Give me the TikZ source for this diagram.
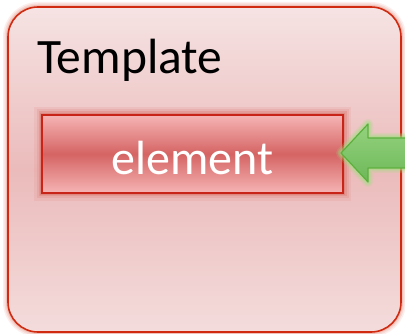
\documentclass[tikz,border=0pt]{standalone}
\usepackage{fontspec}
\setmainfont{Carlito}
\definecolor{tplTop}{HTML}{F6E3E3}
\definecolor{tplMid}{HTML}{EBBBBB}
\definecolor{tplBot}{HTML}{F4DCDC}
\definecolor{tplLine}{HTML}{D02A10}
\definecolor{elEdge}{HTML}{F6B4B4}
\definecolor{elMid}{HTML}{D56464}
\definecolor{elLine}{HTML}{C82418}
\definecolor{arTop}{HTML}{94D27E}
\definecolor{arBot}{HTML}{6DB858}
\definecolor{arLine}{HTML}{5DB03E}
\definecolor{arGlow}{HTML}{9EE07E}
\begin{document}
\begin{tikzpicture}[x=1pt,y=-1pt]
\useasboundingbox (0,0) rectangle (405,334);
\fill[white] (0,0) rectangle (405,334);
% outer template box with soft glow
\foreach \w/\o in {10/0.14,7/0.2,4/0.3}{
  \draw[tplLine!55,line width=\w pt,opacity=\o,rounded corners=30pt] (8,7) rectangle (401,332);
}
\shade[rounded corners=30pt,top color=tplTop,bottom color=tplBot,middle color=tplMid] (8,7) rectangle (401,332);
\draw[tplLine,line width=1.6pt,rounded corners=30pt] (8,7) rectangle (401,332);
\node[anchor=base west,inner sep=0pt,font=\fontsize{49.5}{52}\selectfont,text=black] (title) at (37,74) {Template};
% element box with glow
\foreach \w/\o in {16/0.10,11/0.16,7/0.25,4/0.35}{
  \draw[elLine!70,line width=\w pt,opacity=\o] (42,115) rectangle (343,193);
}
\shade[top color=elEdge,bottom color=elEdge,middle color=elMid] (42,115) rectangle (343,193);
\draw[elLine,line width=1.6pt] (42,115) rectangle (343,193);
\node[inner sep=0pt,font=\fontsize{48}{50}\selectfont,text=white] (elem) at (192.5,158) {element};
% green arrow pointing at the element
\coordinate (tip) at (341,153);
\foreach \w/\o in {10/0.18,7/0.28,4/0.4}{
  \draw[arGlow,line width=\w pt,opacity=\o,line join=round]
    (tip) -- (368,124) -- (368,138) -- (410,138) -- (410,168) -- (368,168) -- (368,182) -- cycle;
}
\shade[top color=arTop,bottom color=arBot,line join=round]
  (tip) -- (368,124) -- (368,138) -- (410,138) -- (410,168) -- (368,168) -- (368,182) -- cycle;
\draw[arLine,line width=1.2pt,line join=round]
  (tip) -- (368,124) -- (368,138) -- (410,138) -- (410,168) -- (368,168) -- (368,182) -- cycle;
\end{tikzpicture}
\end{document}
